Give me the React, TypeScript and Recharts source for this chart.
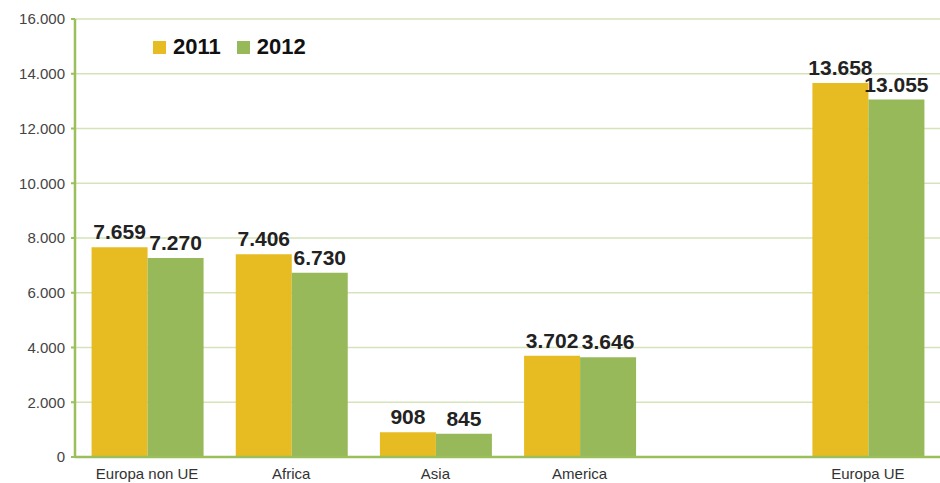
import { Bar, BarChart, CartesianGrid, LabelList, XAxis, YAxis } from "recharts";

const regions = ["Europa non UE", "Africa", "Asia", "America", "", "Europa UE"];
const values2011 = [7659, 7406, 908, 3702, null, 13658];
const values2012 = [7270, 6730, 845, 3646, null, 13055];
const yTicks = [0, 2000, 4000, 6000, 8000, 10000, 12000, 14000, 16000];
const slotEdges = [0, 1, 2, 3, 4, 5, 6];

const YELLOW = "#e6bc22";
const GREEN = "#98b95a";
const AXIS = "#9bbf5a";
const GRID = "#d5e3ba";

const data = regions.map((region, i) => ({
  region,
  slot: i + 0.5,
  y2011: values2011[i],
  y2012: values2012[i],
}));

// 13658 -> "13.658"
function fmt(v: any) {
  if (v === null || v === undefined) return "";
  return String(v).replace(/\B(?=(\d{3})+(?!\d))/g, ".");
}

function LegendBox() {
  const items = [
    { label: "2011", color: YELLOW },
    { label: "2012", color: GREEN },
  ];
  return (
    <div
      style={{
        position: "absolute",
        left: 153,
        top: 34,
        display: "flex",
        alignItems: "center",
        fontFamily: "Liberation Sans",
        fontWeight: 700,
        fontSize: 22,
        color: "#111",
      }}
    >
      {items.map((it) => (
        <div key={it.label} style={{ display: "flex", alignItems: "center", marginRight: 16 }}>
          <span style={{ width: 13, height: 13, background: it.color, display: "inline-block", marginRight: 7 }} />
          <span>{it.label}</span>
        </div>
      ))}
    </div>
  );
}

export default function App() {
  const labelStyle = { fontFamily: "Liberation Sans", fontWeight: 700, fontSize: 21, fill: "#222" };
  return (
    <div style={{ position: "absolute", left: 0, top: 0, width: 940, height: 483, background: "#fff" }}>
      <BarChart
        width={940}
        height={483}
        data={data}
        margin={{ top: 19, right: 0, bottom: 0, left: 0 }}
        barCategoryGap="11.5%"
        barGap={0}
      >
        <CartesianGrid vertical={false} stroke={GRID} strokeWidth={1.5} />
        <YAxis
          width={75}
          domain={[0, 16000]}
          ticks={yTicks}
          tickFormatter={fmt}
          axisLine={{ stroke: AXIS, strokeWidth: 2.5 }}
          tickLine={{ stroke: AXIS, strokeWidth: 2 }}
          tickSize={4}
          tickMargin={6}
          tick={{ fontFamily: "Liberation Sans", fontSize: 15, fill: "#444" }}
        />
        <XAxis
          dataKey="region"
          height={26}
          interval={0}
          axisLine={{ stroke: AXIS, strokeWidth: 2.5 }}
          tickLine={false}
          tick={{ fontFamily: "Liberation Sans", fontSize: 15, fill: "#333", dy: 3 }}
        />
        <XAxis
          xAxisId="edges"
          type="number"
          dataKey="slot"
          domain={[0, 6]}
          ticks={slotEdges}
          height={0}
          axisLine={false}
          tickLine={{ stroke: AXIS, strokeWidth: 2 }}
          tickSize={4}
          tick={() => <g />}
        />
        <Bar dataKey="y2011" name="2011" fill={YELLOW} isAnimationActive={false}>
          <LabelList dataKey="y2011" position="top" offset={8} formatter={fmt} style={labelStyle} />
        </Bar>
        <Bar dataKey="y2012" name="2012" fill={GREEN} isAnimationActive={false}>
          <LabelList dataKey="y2012" position="top" offset={8} formatter={fmt} style={labelStyle} />
        </Bar>
      </BarChart>
      <LegendBox />
    </div>
  );
}
